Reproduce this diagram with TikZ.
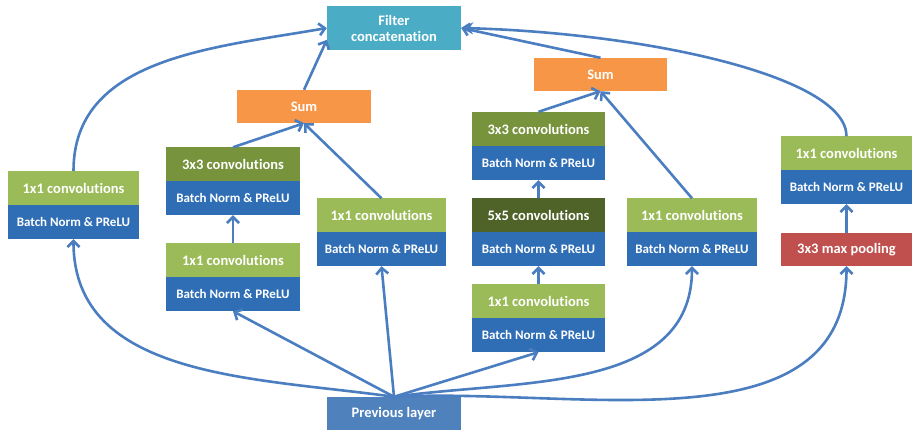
\documentclass[tikz,border=0pt]{standalone}
\usepackage{fontspec}
\setmainfont[Ligatures=NoCommon]{Carlito}
\usetikzlibrary{arrows.meta}
\definecolor{fcblue}{HTML}{4BACC6}
\definecolor{sumor}{HTML}{F79646}
\definecolor{lgreen}{HTML}{9BBB59}
\definecolor{dgreen}{HTML}{77933C}
\definecolor{ddgreen}{HTML}{4F6228}
\definecolor{bnblue}{HTML}{2F6EB5}
\definecolor{prevblue}{HTML}{4F81BD}
\definecolor{poolred}{HTML}{C0504D}
\definecolor{arrowblue}{HTML}{4A7EC0}
\begin{document}
\begin{tikzpicture}[x=1pt,y=1pt,
  box/.style={inner sep=0pt, minimum height=34pt, text=white, align=center,
    font=\bfseries\fontsize{14.5}{16}\selectfont},
  bnbox/.style={box, fill=bnblue, font=\bfseries\fontsize{13}{15}\selectfont},
  conn/.style={draw=arrowblue, line width=2.6pt, -{Straight Barb[length=6pt,width=12pt]}},
  connfilled/.style={draw=arrowblue, line width=2.6pt, -{Stealth[length=12pt,width=12pt]}}]
\useasboundingbox (0,0) rectangle (913,-430);
% top
\node[box, fill=fcblue, minimum width=134pt, minimum height=44pt] (fc) at (394,-28) {Filter\\concatenation};
\node[box, fill=sumor, minimum width=134pt, minimum height=33pt] (sumL) at (304,-106.5) {Sum};
\node[box, fill=sumor, minimum width=133pt, minimum height=33pt] (sumR) at (600.5,-74.5) {Sum};
% column A
\node[box, fill=lgreen, minimum width=131pt] (A) at (73.5,-188) {1x1 convolutions};
\node[bnbox, minimum width=131pt] (Abn) at (73.5,-222) {Batch Norm \& PReLU};
% column B
\node[box, fill=dgreen, minimum width=134pt] (B3) at (233,-164.5) {3x3 convolutions};
\node[bnbox, minimum width=134pt] (B3bn) at (233,-198) {Batch Norm \& PReLU};
\node[box, fill=lgreen, minimum width=134pt] (B1) at (233,-260) {1x1 convolutions};
\node[bnbox, minimum width=134pt] (B1bn) at (233,-294) {Batch Norm \& PReLU};
% column C
\node[box, fill=lgreen, minimum width=129pt] (C) at (381.5,-215.5) {1x1 convolutions};
\node[bnbox, minimum width=129pt] (Cbn) at (381.5,-249) {Batch Norm \& PReLU};
% column D
\node[box, fill=dgreen, minimum width=133pt] (D3) at (538.5,-129) {3x3 convolutions};
\node[bnbox, minimum width=133pt] (D3bn) at (538.5,-163) {Batch Norm \& PReLU};
\node[box, fill=ddgreen, minimum width=133pt] (D5) at (538.5,-215) {5x5 convolutions};
\node[bnbox, minimum width=133pt] (D5bn) at (538.5,-249) {Batch Norm \& PReLU};
\node[box, fill=lgreen, minimum width=133pt] (D1) at (538.5,-301) {1x1 convolutions};
\node[bnbox, minimum width=133pt] (D1bn) at (538.5,-335) {Batch Norm \& PReLU};
% column E
\node[box, fill=lgreen, minimum width=130pt] (E) at (692,-215.5) {1x1 convolutions};
\node[bnbox, minimum width=130pt] (Ebn) at (692,-249) {Batch Norm \& PReLU};
% column F
\node[box, fill=lgreen, minimum width=131pt] (F1) at (846.5,-153.5) {1x1 convolutions};
\node[bnbox, minimum width=131pt] (Fbn) at (846.5,-187) {Batch Norm \& PReLU};
\node[box, fill=poolred, minimum width=131pt, minimum height=33pt] (Fmp) at (846.5,-249.5) {3x3 max pooling};
% previous layer
\node[box, fill=prevblue, minimum width=134pt, minimum height=33pt] (prev) at (394,-413.5) {Previous layer};
% connectors
\draw[conn] (prev.north) to[out=172,in=-90] (Abn.south);
\draw[conn] (prev.north) -- (B1bn.south);
\draw[conn] (prev.north) -- (Cbn.south);
\draw[conn] (prev.north) -- (D1bn.south);
\draw[conn] (prev.north) to[out=8,in=-90] (Ebn.south);
\draw[conn] (prev.north) to[out=3,in=-90] (Fmp.south);
\draw[conn] (B1.north) -- (B3bn.south);
\draw[conn] (D1.north) -- (D5bn.south);
\draw[conn] (D5.north) -- (D3bn.south);
\draw[conn] (Fmp.north) -- (Fbn.south);
\draw[conn] (B3.north) -- (sumL.south);
\draw[conn] (C.north) -- (sumL.south);
\draw[conn] (D3.north) -- (sumR.south);
\draw[conn] (E.north) -- (sumR.south);
\draw[conn] (sumL.north) -- (fc.190);
\draw[conn] (sumR.north) -- (fc.east);
\draw[conn] (A.north) to[out=90,in=190] (fc.west);
\draw[connfilled] (F1.north) .. controls +(0,60) and +(185,-5) .. (fc.east);
\end{tikzpicture}
\end{document}
